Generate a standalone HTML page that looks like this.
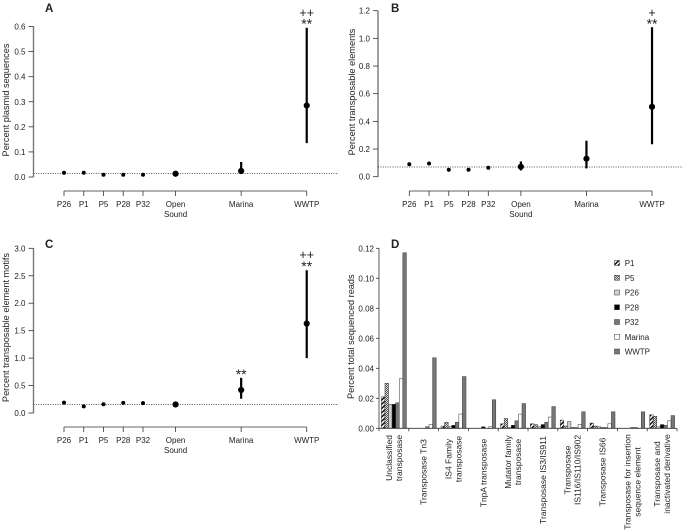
<!DOCTYPE html>
<html lang="en">
<head>
<meta charset="utf-8">
<title>Percent sequences by sample</title>
<style>
html,body{margin:0;padding:0;background:#fff;}
svg{display:block;filter:blur(0.3px);}
text{font-family:"Liberation Sans",sans-serif;fill:#222;}
</style>
</head>
<body>
<svg id="chart" xmlns="http://www.w3.org/2000/svg" width="686" height="531" viewBox="0 0 686 531">
<defs>
<pattern id="hatch-diag" patternUnits="userSpaceOnUse" width="3" height="3" patternTransform="rotate(-45)"><rect width="3" height="3" fill="#fff"/><rect width="3" height="1.5" fill="#111"/></pattern>
<pattern id="hatch-cross" patternUnits="userSpaceOnUse" width="2" height="2"><rect width="2" height="2" fill="#ddd"/><rect width="1" height="1" fill="#555"/><rect x="1" y="1" width="1" height="1" fill="#555"/></pattern>
</defs>
</svg>
<script>
var sites = ['P26','P1','P5','P28','P32','Open|Sound','Marina','WWTP'];

var plasmidMedian = [0.017,0.017,0.009,0.009,0.009,0.013,0.024,0.285];
var plasmidLow    = [null,null,null,null,null,null,0.012,0.135];
var plasmidHigh   = [null,null,null,null,null,null,0.060,0.595];
var plasmidRef = 0.014;
var plasmidTicks = [0,0.1,0.2,0.3,0.4,0.5,0.6];

var elementMedian = [0.09,0.095,0.05,0.05,0.065,0.072,0.13,0.505];
var elementLow    = [null,null,null,null,null,0.045,0.06,0.235];
var elementHigh   = [null,null,null,null,null,0.11,0.26,1.08];
var elementRef = 0.07;
var elementTicks = [0,0.2,0.4,0.6,0.8,1.0,1.2];

var motifMedian = [0.19,0.12,0.16,0.185,0.18,0.155,0.42,1.63];
var motifLow    = [null,null,null,null,null,null,0.26,1.0];
var motifHigh   = [null,null,null,null,null,null,0.64,2.6];
var motifRef = 0.155;
var motifTicks = [0,0.5,1.0,1.5,2.0,2.5,3.0];

var geneCategories = ['Unclassified|transposase','Transposase Tn3','IS4 Family|transposase','TnpA transposase','Mutator family|transposase','Transposase IS3/IS911','Transposase|IS116/IS110/IS902','Transposase IS66','Transposase for insertion|sequence element','Transposase and|inactivated derivative'];
var seriesNames = ['P1','P5','P26','P28','P32','Marina','WWTP'];
var seriesP1     = [0.021,0,0.0015,0,0.003,0.003,0.0055,0.0035,0,0.009];
var seriesP5     = [0.030,0,0.004,0,0.0065,0.0025,0.0015,0.0015,0,0.008];
var seriesP26    = [0.016,0,0.001,0,0.0005,0.001,0.0045,0.001,0,0.001];
var seriesP28    = [0.016,0,0.002,0.001,0.002,0.0025,0.0005,0.0005,0.0005,0.0025];
var seriesP32    = [0.017,0.001,0.004,0,0.005,0.004,0.0005,0.0005,0.0005,0.002];
var seriesMarina = [0.033,0.0025,0.0095,0.001,0.0095,0.0075,0.0025,0.003,0,0.005];
var seriesWWTP   = [0.117,0.047,0.0345,0.019,0.0165,0.0145,0.011,0.011,0.011,0.0085];
var geneTicks = [0,0.02,0.04,0.06,0.08,0.10,0.12];

var NS = 'http://www.w3.org/2000/svg';
var svg = document.getElementById('chart');

function mk(tag, attrs, parent) {
  var el = document.createElementNS(NS, tag);
  for (var k in attrs) el.setAttribute(k, attrs[k]);
  (parent || svg).appendChild(el);
  return el;
}
function label(str, x, y, size, anchor, parent, extra) {
  var el = mk('text', {x:x, y:y, 'font-size':size, 'text-anchor':anchor}, parent);
  if (extra) for (var k in extra) el.setAttribute(k, extra[k]);
  el.textContent = str;
  return el;
}
function linear(d0, d1, r0, r1) {
  return function (v) { return r0 + (v - d0) * (r1 - r0) / (d1 - d0); };
}
function siteSlot(i) { return i <= 4 ? i : 5.65 + (i - 5) * 3.32; }

function dotPanel(cfg) {
  var g = mk('g', {});
  
  
  var maxV = cfg.ticks[cfg.ticks.length - 1];
  var y = linear(0, maxV, cfg.y0, cfg.y1);
  var x = function (i) { return cfg.x0 + siteSlot(i) * cfg.step; };

  var letter = label(cfg.letter, cfg.letterX, cfg.letterY, 11.5, 'start', g, {'font-weight':'bold'});
  
  

  var yAxis = mk('line', {x1:cfg.axisX, x2:cfg.axisX, y1:y(maxV), y2:y(0), stroke:'#777', 'stroke-width':1.4}, g);
  
  

  cfg.ticks.forEach(function (t) {
    var tick = mk('line', {x1:cfg.axisX - 5, x2:cfg.axisX, y1:y(t), y2:y(t), stroke:'#333', 'stroke-width':0.8}, g);
    
    
    var tl = label(t.toFixed(1), cfg.axisX - 8, y(t) + 3, 8, 'end', g);
    
    
  });

  var title = label(cfg.title, 0, 0, 9.2, 'middle', g, {transform:'translate(' + (cfg.titleX + 3) + ',' + cfg.titleY + ') rotate(-90)'});
  
  

  var xAxis = mk('line', {x1:x(0), x2:x(sites.length - 1), y1:cfg.xAxisY, y2:cfg.xAxisY, stroke:'#333', 'stroke-width':0.8}, g);
  
  

  sites.forEach(function (s, i) {
    var tick = mk('line', {x1:x(i), x2:x(i), y1:cfg.xAxisY, y2:cfg.xAxisY + 5, stroke:'#333', 'stroke-width':0.8}, g);
    
    
    s.split('|').forEach(function (line, j) {
      var tl = label(line, x(i), cfg.xAxisY + 16 + j * 10, 8, 'middle', g);
      
      
    });
  });

  var ref = mk('line', {x1:cfg.axisX, x2:cfg.axisX + 305, y1:y(cfg.ref), y2:y(cfg.ref), stroke:'#222', 'stroke-width':0.8, 'stroke-dasharray':'1 1.4'}, g);
  
  

  cfg.median.forEach(function (m, i) {
    if (cfg.low[i] !== null) {
      var ci = mk('line', {x1:x(i), x2:x(i), y1:y(cfg.low[i]), y2:y(cfg.high[i]), stroke:'#000', 'stroke-width':2.2}, g);
      
      
    }
    var dot = mk('circle', {cx:x(i), cy:y(m), r:i < 5 ? 2 : 3.1, fill:'#000'}, g);
    
    
  });

  cfg.marks.forEach(function (mark) {
    var isPlus = mark.text.charAt(0) === '+';
    var sig = label(mark.text, x(mark.site), mark.y, isPlus ? 12.5 : 14, 'middle', g);
    
    
  });
}

dotPanel({name:'panel-a-plasmid', letter:'A', letterX:45, letterY:12, title:'Percent plasmid sequences', titleX:6, titleY:100,
  ticks:plasmidTicks, median:plasmidMedian, low:plasmidLow, high:plasmidHigh, ref:plasmidRef,
  axisX:33.5, x0:64, step:19.75, y0:177, y1:26.5, xAxisY:191,
  marks:[{site:7,text:'++',y:17},{site:7,text:'**',y:28.5}]});

dotPanel({name:'panel-b-transposable-elements', letter:'B', letterX:391, letterY:12, title:'Percent transposable elements', titleX:352, titleY:92,
  ticks:elementTicks, median:elementMedian, low:elementLow, high:elementHigh, ref:elementRef,
  axisX:378, x0:409.3, step:19.75, y0:176.7, y1:10.7, xAxisY:191,
  marks:[{site:7,text:'+',y:17},{site:7,text:'**',y:28.5}]});

dotPanel({name:'panel-c-motifs', letter:'C', letterX:45, letterY:248, title:'Percent transposable element motifs', titleX:6, titleY:327.5,
  ticks:motifTicks, median:motifMedian, low:motifLow, high:motifHigh, ref:motifRef,
  axisX:33.5, x0:64, step:19.75, y0:413, y1:248.3, xAxisY:427,
  marks:[{site:7,text:'++',y:259},{site:7,text:'**',y:271},{site:6,text:'**',y:379}]});

var labelCenters = [458,472,459,473,462,480,470,472,482,474];

(function barPanel() {
  var g = mk('g', {});
  
  

  var axisX = 379, axisEnd = 677, bandW = (axisEnd - axisX) / geneCategories.length, barW = 3.57;
  var y = linear(0, 0.12, 428.3, 248.3);
  var x = function (i) { return axisX + (i + 0.5) * bandW; };
  var allSeries = [seriesP1, seriesP5, seriesP26, seriesP28, seriesP32, seriesMarina, seriesWWTP];
  var fills = ['url(#hatch-diag)','url(#hatch-cross)','#cfcfcf','#000','#777','#fff','#777'];

  var letter = label('D', 391, 248, 11.5, 'start', g, {'font-weight':'bold'});
  
  

  var yAxis = mk('line', {x1:axisX, x2:axisX, y1:y(0.12), y2:y(0), stroke:'#777', 'stroke-width':1.2}, g);
  
  

  geneTicks.forEach(function (t) {
    var tick = mk('line', {x1:axisX - 3, x2:axisX, y1:y(t), y2:y(t), stroke:'#333', 'stroke-width':0.8}, g);
    
    
    var tl = label(t.toFixed(2), axisX - 5, y(t) + 3, 8, 'end', g);
    
    
  });

  var title = label('Percent total sequenced reads', 0, 0, 9.2, 'middle', g, {transform:'translate(354,336.7) rotate(-90)'});
  
  

  geneCategories.forEach(function (c, i) {
    allSeries.forEach(function (vals, s) {
      var bx = x(i) - barW * seriesNames.length / 2 + s * barW;
      var h = y(0) - y(vals[i]);
      if (h <= 0) return;
      var bar = mk('rect', {x:bx, y:y(vals[i]), width:barW, height:h, fill:fills[s], stroke:'#333', 'stroke-width':0.5}, g);
      
      
    });
    var lines = c.split('|');
    lines.forEach(function (line, j) {
      var px = x(i) + (j - (lines.length - 1) / 2) * 10 + 3;
      var tl = label(line, 0, 0, 8.5, 'middle', g, {transform:'translate(' + px + ',' + labelCenters[i] + ') rotate(-90)'});
      
      
    });
  });

  var xAxis = mk('line', {x1:axisX, x2:axisEnd, y1:y(0), y2:y(0), stroke:'#333', 'stroke-width':0.8}, g);
  
  
  for (var k = 0; k <= geneCategories.length; k++) {
    var tick = mk('line', {x1:axisX + k * bandW, x2:axisX + k * bandW, y1:y(0), y2:y(0) + 3, stroke:'#333', 'stroke-width':0.8}, g);
    
    
  }

  var legend = mk('g', {}, g);
  
  
  seriesNames.forEach(function (n, s) {
    var ly = 263 + s * 14.75;
    var sw = mk('rect', {x:614.5, y:ly - 2.5, width:5, height:5, fill:fills[s], stroke:'#333', 'stroke-width':0.5}, legend);
    
    
    var lt = label(n, 624.7, ly + 3, 8, 'start', legend);
    
    
  });
})();
</script>
</body>
</html>
